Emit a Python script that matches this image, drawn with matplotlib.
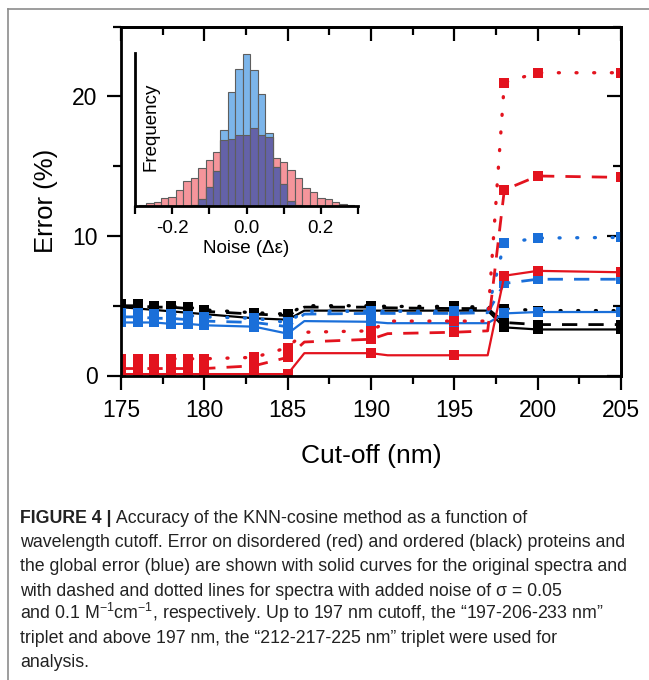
import numpy as np
import matplotlib
matplotlib.use('Agg')
import matplotlib.pyplot as plt
from matplotlib.lines import Line2D
from matplotlib.ticker import MultipleLocator, FixedLocator

plt.rcParams['font.family'] = ['Liberation Sans', 'DejaVu Sans']
plt.rcParams['mathtext.fontset'] = 'custom'
plt.rcParams['mathtext.rm'] = 'Liberation Sans'
plt.rcParams['mathtext.it'] = 'Liberation Sans:italic'
plt.rcParams['mathtext.bf'] = 'Liberation Sans:bold'
plt.rcParams['axes.unicode_minus'] = False

# cut-off wavelength (nm); no marker is drawn at 186, 191 and 197
cutoff = [175, 176, 177, 178, 179, 180, 183, 185, 186, 190, 191, 195, 197, 198, 200, 205]
marked = [175, 176, 177, 178, 179, 180, 183, 185, 190, 195, 198, 200, 205]

# error (%) on disordered proteins (red): original, sigma=0.05, sigma=0.1
dis_orig = [0.1, 0.1, 0.1, 0.1, 0.1, 0.1, 0.1, 0.1, 1.6, 1.6, 1.45, 1.45, 1.45, 7.15, 7.5, 7.4]
dis_n005 = [0.5, 0.5, 0.5, 0.5, 0.5, 0.5, 0.7, 1.3, 2.4, 2.6, 3.0, 3.1, 3.2, 13.3, 14.3, 14.2]
dis_n01 = [1.2, 1.2, 1.2, 1.2, 1.2, 1.2, 1.3, 2.0, 3.1, 3.2, 3.9, 3.9, 3.9, 21.0, 21.7, 21.7]

# error (%) on ordered proteins (black)
ord_orig = [4.9, 4.8, 4.7, 4.6, 4.5, 4.4, 4.1, 4.0, 4.65, 4.65, 4.65, 4.65, 4.65, 3.45, 3.3, 3.3]
ord_n005 = [5.0, 5.0, 4.9, 4.9, 4.8, 4.6, 4.4, 4.3, 4.9, 4.9, 4.85, 4.8, 4.8, 3.8, 3.65, 3.65]
ord_n01 = [5.1, 5.1, 5.0, 5.0, 4.9, 4.7, 4.5, 4.4, 5.0, 5.0, 4.95, 4.95, 4.9, 4.8, 4.65, 4.65]

# global error (blue)
glob_orig = [3.8, 3.8, 3.8, 3.7, 3.7, 3.6, 3.5, 3.0, 3.9, 3.85, 3.75, 3.75, 3.75, 4.45, 4.55, 4.55]
glob_n005 = [4.2, 4.2, 4.1, 4.1, 4.0, 3.9, 3.8, 3.5, 4.4, 4.45, 4.45, 4.45, 4.5, 6.6, 6.9, 6.9]
glob_n01 = [4.5, 4.5, 4.4, 4.4, 4.3, 4.2, 4.1, 3.8, 4.6, 4.6, 4.6, 4.6, 4.7, 9.5, 9.85, 9.9]

# inset: noise histograms (bin centres and counts)
noise_bins = [-0.28, -0.26, -0.24, -0.22, -0.20, -0.18, -0.16, -0.14, -0.12, -0.10,
              -0.08, -0.06, -0.04, -0.02, 0.00, 0.02, 0.04, 0.06, 0.08, 0.10,
              0.12, 0.14, 0.16, 0.18, 0.20, 0.22, 0.24, 0.26, 0.28]
wide_counts = [1, 3, 4, 8, 9, 16, 25, 28, 38, 46, 54, 66, 67, 71, 71, 79, 71, 69, 48, 44,
               36, 28, 18, 14, 8, 7, 4, 2, 1]
narrow_counts = [0, 0, 0, 0, 0, 0, 0, 1, 7, 19, 35, 77, 115, 138, 153, 137, 113, 73, 39, 22,
                 5, 1, 0, 0, 0, 0, 0, 0, 0]

caption = [
    "Accuracy of the KNN-cosine method as a function of",
    "wavelength cutoff. Error on disordered (red) and ordered (black) proteins and",
    "the global error (blue) are shown with solid curves for the original spectra and",
    "with dashed and dotted lines for spectra with added noise of σ = 0.05",
    "and 0.1 M$^{-1}$cm$^{-1}$, respectively. Up to 197 nm cutoff, the “197-206-233 nm”",
    "triplet and above 197 nm, the “212-217-225 nm” triplet were used for",
    "analysis.",
]

RED = '#e3131e'
BLUE = '#1a6fd9'

W, H = 649, 680
fig = plt.figure(figsize=(W / 100, H / 100), dpi=100)

# grey frame round the figure panel
fig.add_artist(Line2D([8 / W, 1], [1 - 9 / H, 1 - 9 / H], color='#8c8c8c', lw=1.2))
fig.add_artist(Line2D([8 / W, 8 / W], [0, 1 - 9 / H], color='#8c8c8c', lw=1.2))

ax = fig.add_axes([121 / W, 1 - 375.5 / H, 500 / W, (375.5 - 26.7) / H])

styles = {
    'solid': dict(linestyle='-', lw=1.6),
    'dashed': dict(linestyle=(0, (5.5, 4)), lw=2.0),
    'dotted': dict(linestyle=(0, (0.3, 5)), lw=2.4, dash_capstyle='round'),
}
series = [
    (ord_orig, 'black', 'solid'), (ord_n005, 'black', 'dashed'), (ord_n01, 'black', 'dotted'),
    (glob_orig, BLUE, 'solid'), (glob_n005, BLUE, 'dashed'), (glob_n01, BLUE, 'dotted'),
    (dis_orig, RED, 'solid'), (dis_n005, RED, 'dashed'), (dis_n01, RED, 'dotted'),
]
mark_idx = [cutoff.index(c) for c in marked]
for vals, col, st in series:
    ax.plot(cutoff, vals, color=col, marker='s', ms=6.5, mfc=col, mec=col, mew=0,
            markevery=mark_idx, **styles[st])

ax.set_xlim(175, 205)
ax.set_ylim(0, 25)
ax.xaxis.set_major_locator(MultipleLocator(5))
ax.xaxis.set_minor_locator(MultipleLocator(2.5))
ax.yaxis.set_major_locator(MultipleLocator(10))
ax.yaxis.set_minor_locator(MultipleLocator(5))
for s in ax.spines.values():
    s.set_linewidth(2)
ax.tick_params(which='both', width=1.6, labelsize=16.5, pad=7)
ax.tick_params(which='major', length=10)
ax.tick_params(which='minor', length=6)
ax.tick_params(axis='x', which='both', bottom=True, top=False, direction='out')
ax.tick_params(axis='y', which='both', left=True, right=False, direction='out')
ax.set_xlabel('Cut-off (nm)', fontsize=19, labelpad=16)
ax.set_ylabel('Error (%)', fontsize=18.5, labelpad=10)

# inward ticks on the top and right spines
top = ax.secondary_xaxis('top')
top.xaxis.set_major_locator(MultipleLocator(5))
top.xaxis.set_minor_locator(MultipleLocator(2.5))
top.tick_params(which='both', direction='in', width=1.6, labeltop=False)
top.tick_params(which='major', length=10)
top.tick_params(which='minor', length=6)
top.spines['top'].set_linewidth(2)
right = ax.secondary_yaxis('right')
right.yaxis.set_major_locator(MultipleLocator(10))
right.yaxis.set_minor_locator(MultipleLocator(5))
right.tick_params(which='both', direction='in', width=1.6, labelright=False)
right.tick_params(which='major', length=10)
right.tick_params(which='minor', length=6)
right.spines['right'].set_linewidth(2)

# inset histogram
axi = fig.add_axes([135 / W, 1 - 206 / H, 223 / W, 153 / H])
axi.patch.set_alpha(0)
overlap = np.minimum(wide_counts, narrow_counts)
bar_kw = dict(width=0.02, edgecolor='#5e5e5e', linewidth=0.8)
axi.bar(noise_bins, wide_counts, color='#f5959b', **bar_kw)
axi.bar(noise_bins, narrow_counts, color='#7cb5ea', **bar_kw)
axi.bar(noise_bins, overlap, color='#6462a8', **bar_kw)
axi.set_xlim(-0.3, 0.3)
axi.set_ylim(0, 154)
axi.spines['top'].set_visible(False)
axi.spines['right'].set_visible(False)
axi.spines['left'].set_linewidth(2)
axi.spines['bottom'].set_linewidth(2)
axi.set_yticks([])
axi.xaxis.set_major_locator(FixedLocator([-0.2, 0.0, 0.2]))
axi.xaxis.set_minor_locator(FixedLocator([-0.3, -0.1, 0.1, 0.3]))
axi.xaxis.set_major_formatter(lambda v, p: f'{v:.1f}')
axi.tick_params(axis='x', which='both', direction='out', length=6, width=1.6,
                labelsize=13.5, pad=4)
axi.set_xlabel('Noise (Δε)', fontsize=13.5, labelpad=2)
axi.text(0.07, 0.52, 'Frequency', rotation=90, fontsize=13.5,
         transform=axi.transAxes, ha='center', va='center')

# caption below the chart
CAP_FS = 12.8
cap_kw = dict(fontsize=CAP_FS, color='#222222', va='baseline', ha='left')
base = [523, 547, 571, 596, 619, 643, 667]
head = fig.text(20 / W, 1 - base[0] / H, 'FIGURE 4 |', fontweight='bold', **cap_kw)
plt.annotate(' ' + caption[0], xy=(1, 0), xycoords=head, fontsize=CAP_FS, color='#222222',
             va='bottom', ha='left')
for i, line in enumerate(caption[1:], start=1):
    fig.text(20 / W, 1 - base[i] / H, line, **cap_kw)

fig.savefig('out.png', dpi=100)
